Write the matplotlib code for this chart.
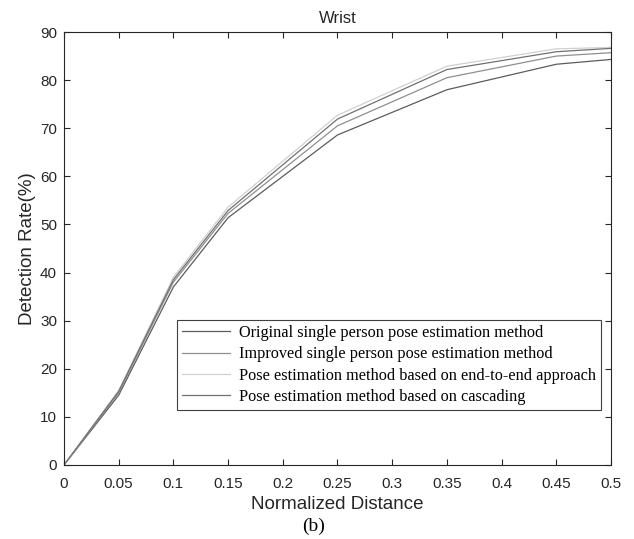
import matplotlib.pyplot as plt
import numpy as np

# 数据
dist = [0, 0.05, 0.1, 0.15, 0.25, 0.35, 0.45, 0.5]
original = [0, 14.5, 37.0, 51.4, 68.6, 78.0, 83.3, 84.3]
improved = [0, 15.0, 38.0, 52.3, 70.5, 80.5, 85.0, 85.7]
end2end = [0, 15.5, 39.0, 53.6, 72.7, 82.9, 86.5, 86.8]
cascade = [0, 15.3, 38.5, 52.9, 71.9, 82.2, 85.9, 86.6]

xtick_labels = ["0", "0.05", "0.1", "0.15", "0.2", "0.25", "0.3", "0.35", "0.4", "0.45", "0.5"]
labels = [
    "Original single person pose estimation method",
    "Improved single person pose estimation method",
    "Pose estimation method based on end-to-end approach",
    "Pose estimation method based on cascading",
]
colors = ["#5c5c5c", "#8f8f8f", "#d0d0d0", "#707070"]

plt.rcParams["font.family"] = ["Liberation Sans", "DejaVu Sans"]
txt = "#262626"

fig = plt.figure(figsize=(6.34, 5.39), dpi=100)
ax = fig.add_axes([0.1009, 0.1373, 0.8628, 0.8033])

for y, lab, c in zip([original, improved, end2end, cascade], labels, colors):
    ax.plot(dist, y, color=c, linewidth=0.9, label=lab)

ax.set_xlim(0, 0.5)
ax.set_ylim(0, 90)
ax.set_xticks(np.arange(0, 0.51, 0.05))
ax.set_xticklabels(xtick_labels)
ax.set_yticks(range(0, 91, 10))
ax.tick_params(direction="in", top=True, right=True, labelsize=11, colors=txt, length=4.3, width=0.8)
ax.tick_params(axis="x", pad=8.5)
ax.tick_params(axis="y", pad=5)
for s in ax.spines.values():
    s.set_color(txt)
    s.set_linewidth(0.8)

ax.set_title("Wrist", fontsize=12, color=txt, pad=6.5)
ax.set_xlabel("Normalized Distance", fontsize=13.5, color=txt, labelpad=4)
ax.set_ylabel("Detection Rate(%)", fontsize=13.5, color=txt, labelpad=3)
fig.text(314 / 634, 1 - 535 / 539, "(b)", fontsize=14, family="Liberation Serif", ha="center", va="bottom")

leg = ax.legend(loc="lower right", bbox_to_anchor=(0.982, 0.127), borderaxespad=0,
                prop={"family": "Liberation Serif", "size": 11.7},
                fancybox=False, edgecolor="#404040", framealpha=1, handlelength=3.0,
                borderpad=0.3, labelspacing=0.33, handletextpad=0.55)
leg.get_frame().set_linewidth(0.8)

fig.savefig("out.png", dpi=100)
